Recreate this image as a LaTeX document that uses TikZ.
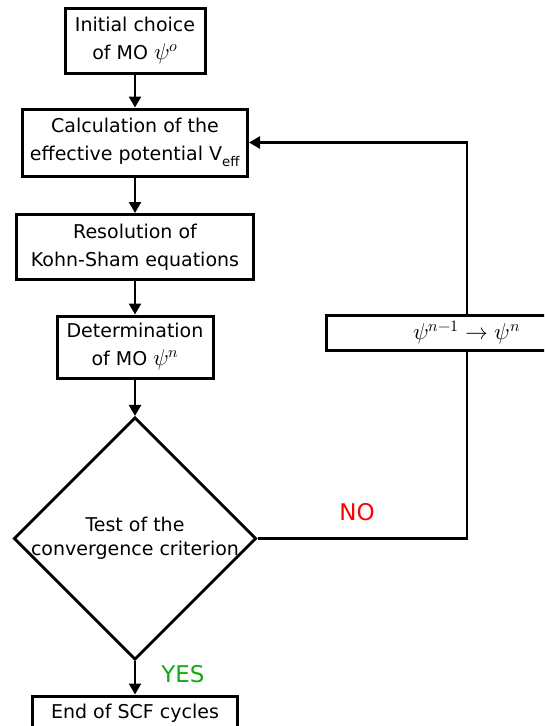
\documentclass[tikz,border=0pt]{standalone}
\usepackage{fontspec}
\usepackage{unicode-math}
\setmainfont{DejaVu Sans}
\setmathfont{Latin Modern Math}[Scale=1.2]
\usetikzlibrary{shapes.geometric, arrows.meta, positioning}
\definecolor{nored}{RGB}{255, 0, 0}
\definecolor{yesgreen}{RGB}{20, 170, 20}

\begin{document}
\begin{tikzpicture}[x=1pt, y=-1pt,
  block/.style={draw, line width=3pt, fill=white, align=center, inner sep=1pt, minimum width=#1, minimum height=65, font=\fontsize{19}{28}\selectfont},
  decision/.style={draw, diamond, line width=2.8pt, fill=white, align=center, inner sep=-2pt, minimum width=242, minimum height=240, font=\fontsize{19}{24}\selectfont},
  arrow/.style={-{Triangle[length=11pt, width=12pt]}, line width=2.5pt},
  link/.style={line width=2.5pt},
  answer/.style={font=\fontsize{23}{26}\selectfont}
]
  \clip (0,0) rectangle (544,726);
  \node[block=140] (init) at (135,40.5) {Initial choice\\ of MO $\psi^{o}$};
  \node[block=225, minimum height=67] (calc) at (135,142.5) {Calculation of the\\effective potential V\textsubscript{eff}};
  \node[block=237] (kohn) at (135,247) {Resolution of\\Kohn-Sham equations};
  \node[block=156, minimum height=62] (det) at (135,347) {Determination\\ of MO $\psi^{n}$};
  \node[decision] (test) at (135,538.5) {Test of the\\convergence criterion};
  \node[block=205, minimum height=34] (fin) at (135,713) {End of SCF cycles};
  % update of the orbitals on the loop back
  \node[block=282, minimum height=35] (upd) at (467,332.5) {$\psi^{n-1}\rightarrow\psi^{n}$};

  \node[answer, text=nored] (no) at (357,512) {NO};
  \node[answer, text=yesgreen] (yes) at (183,674) {YES};

  \draw[arrow] (init) -- (calc);
  \draw[arrow] (calc) -- (kohn);
  \draw[arrow] (kohn) -- (det);
  \draw[arrow] (det) -- (test);
  \draw[arrow] (test) -- (fin);
  \draw[link] (test.east) -| (upd.south);
  \draw[arrow] (upd.north) |- (calc.east);
\end{tikzpicture}
\end{document}
